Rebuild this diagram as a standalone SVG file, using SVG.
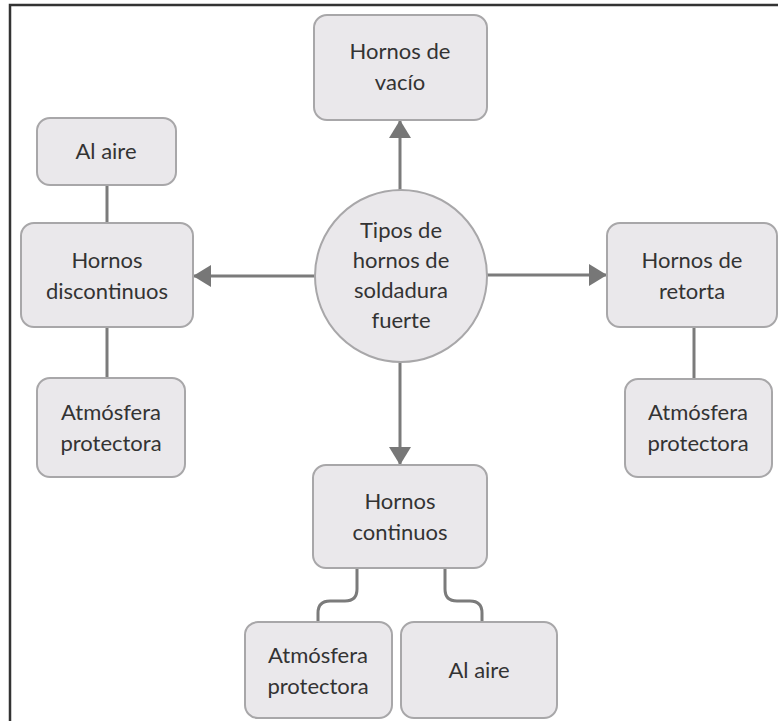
<svg xmlns="http://www.w3.org/2000/svg" width="778" height="721" viewBox="0 0 778 721">
<style>
.box{fill:#eae8eb;stroke:#a8a7a9;stroke-width:2}
.t{font-family:Lato,"Open Sans","DejaVu Sans",sans-serif;font-size:22px;fill:#333;text-anchor:middle}
.c{fill:none;stroke:#7b7b7b;stroke-width:3}
</style>
<defs>
<marker id="ah" markerUnits="userSpaceOnUse" markerWidth="18" markerHeight="22" refX="17" refY="11" orient="auto">
<path d="M0,0 L18,11 L0,22 z" fill="#777"/>
</marker>
</defs>
<rect width="778" height="721" fill="#fff"/>
<path d="M10,721 V5 H778" fill="none" stroke="#333" stroke-width="2.5"/>
<g id="connectors">
<line class="c" x1="400" y1="190" x2="400" y2="121" marker-end="url(#ah)"/>
<line class="c" x1="315" y1="276" x2="194" y2="276" marker-end="url(#ah)"/>
<line class="c" x1="487" y1="275" x2="606" y2="275" marker-end="url(#ah)"/>
<line class="c" x1="400" y1="362" x2="400" y2="464" marker-end="url(#ah)"/>
<line class="c" x1="107" y1="185" x2="107" y2="223"/>
<line class="c" x1="107" y1="327" x2="107" y2="378"/>
<line class="c" x1="694" y1="327" x2="694" y2="379"/>
<path class="c" d="M357,568 V589 Q357,601 345,601 H330 Q318,601 318,613 V622"/>
<path class="c" d="M445,568 V589 Q445,601 457,601 H470 Q482,601 482,613 V622"/>
</g>
<g id="center">
<circle class="box" cx="401" cy="276" r="86"/>
<text class="t" x="401" y="238">Tipos de</text>
<text class="t" x="401" y="268">hornos de</text>
<text class="t" x="401" y="298">soldadura</text>
<text class="t" x="401" y="328">fuerte</text>
</g>
<g id="vacio">
<rect class="box" x="314" y="15" width="173" height="105" rx="13"/>
<text class="t" x="400" y="59">Hornos de</text>
<text class="t" x="400" y="90">vacío</text>
</g>
<g id="aire-top">
<rect class="box" x="37" y="118" width="139" height="67" rx="13"/>
<text class="t" x="106" y="159">Al aire</text>
</g>
<g id="discontinuos">
<rect class="box" x="21" y="223" width="172" height="104" rx="13"/>
<text class="t" x="107" y="268">Hornos</text>
<text class="t" x="107" y="299">discontinuos</text>
</g>
<g id="atm-left">
<rect class="box" x="37" y="378" width="148" height="99" rx="13"/>
<text class="t" x="111" y="420">Atmósfera</text>
<text class="t" x="111" y="451">protectora</text>
</g>
<g id="retorta">
<rect class="box" x="607" y="223" width="170" height="104" rx="13"/>
<text class="t" x="692" y="268">Hornos de</text>
<text class="t" x="692" y="299">retorta</text>
</g>
<g id="atm-right">
<rect class="box" x="625" y="379" width="147" height="98" rx="13"/>
<text class="t" x="698" y="420">Atmósfera</text>
<text class="t" x="698" y="451">protectora</text>
</g>
<g id="continuos">
<rect class="box" x="313" y="465" width="174" height="103" rx="13"/>
<text class="t" x="400" y="509">Hornos</text>
<text class="t" x="400" y="540">continuos</text>
</g>
<g id="atm-bottom">
<rect class="box" x="245" y="622" width="147" height="96" rx="13"/>
<text class="t" x="318" y="663">Atmósfera</text>
<text class="t" x="318" y="694">protectora</text>
</g>
<g id="aire-bottom">
<rect class="box" x="401" y="622" width="156" height="96" rx="13"/>
<text class="t" x="479" y="678">Al aire</text>
</g>
</svg>
